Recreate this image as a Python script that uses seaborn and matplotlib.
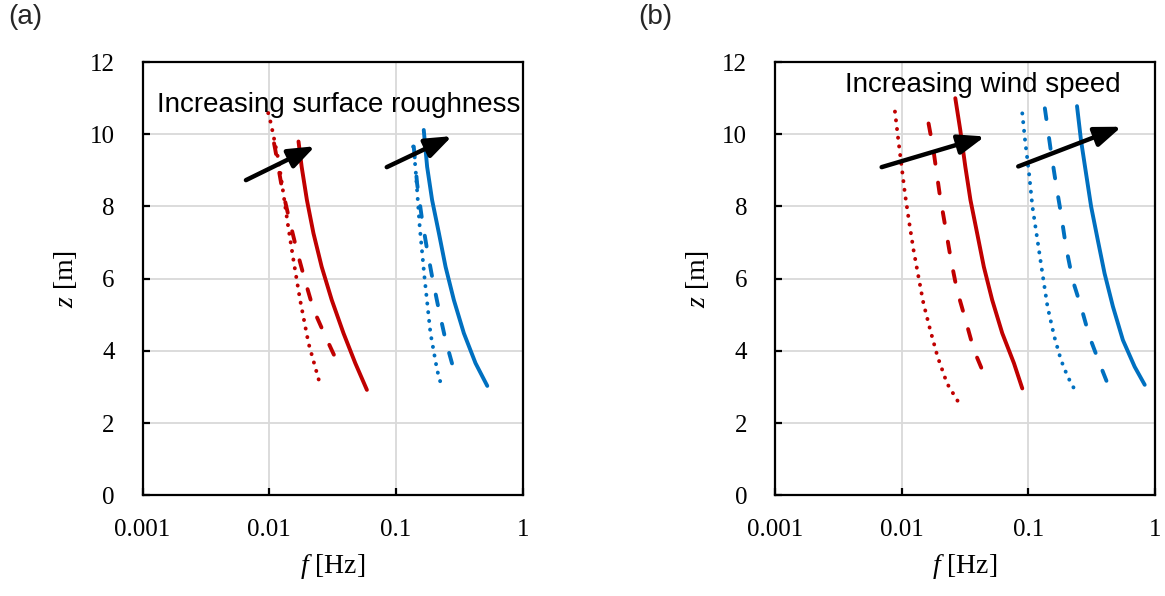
import numpy as np
import pandas as pd
import matplotlib
matplotlib.use('Agg')
import matplotlib.pyplot as plt
import seaborn as sns
from matplotlib.ticker import FixedLocator, FixedFormatter, NullLocator

# Panel (a): increasing surface roughness
a_red_solid_z = [9.80, 9.10, 8.18, 7.26, 6.33, 5.41, 4.49, 3.66, 2.92]
a_red_solid_f = [0.0170, 0.0180, 0.0198, 0.0223, 0.0259, 0.0311, 0.0385, 0.0477, 0.0589]
a_red_dash_z = [9.75, 9.57, 8.55, 7.63, 6.80, 5.96, 5.15, 4.38, 3.68, 3.52]
a_red_dash_f = [0.0109, 0.01115, 0.01253, 0.0144, 0.01644, 0.0191, 0.0223, 0.0279, 0.0345, 0.0362]
a_red_dot_z = [10.59, 10.30, 9.29, 8.37, 7.44, 6.52, 5.41, 4.21, 3.06]
a_red_dot_f = [0.0098, 0.0103, 0.0118, 0.0129, 0.0141, 0.0155, 0.0175, 0.0204, 0.0252]
a_blue_solid_z = [10.12, 9.10, 8.18, 7.26, 6.33, 5.41, 4.49, 3.66, 3.03]
a_blue_solid_f = [0.1655, 0.176, 0.1926, 0.218, 0.246, 0.286, 0.343, 0.424, 0.525]
a_blue_dash_z = [9.66, 8.64, 7.63, 6.80, 6.06, 5.13, 4.30, 3.47, 3.33]
a_blue_dash_f = [0.138, 0.1466, 0.1606, 0.176, 0.1926, 0.218, 0.246, 0.286, 0.300]
a_blue_dot_z = [9.66, 9.10, 7.44, 6.06, 4.49, 3.47, 3.06]
a_blue_dot_f = [0.1365, 0.1422, 0.1538, 0.1675, 0.187, 0.211, 0.227]

# Panel (b): increasing wind speed
b_red_dot_z = [10.63, 9.84, 9.10, 8.37, 7.53, 6.80, 6.06, 5.32, 4.58, 3.84, 3.10, 2.46]
b_red_dot_f = [0.00885, 0.00941, 0.0100, 0.0106, 0.0115, 0.0124, 0.01356, 0.01485, 0.0168,
               0.0192, 0.0228, 0.0294]
b_red_dash_z = [10.30, 9.57, 8.37, 7.44, 6.52, 5.69, 4.86, 4.03, 3.19]
b_red_dash_f = [0.0163, 0.0178, 0.0199, 0.0221, 0.0245, 0.0273, 0.0319, 0.0371, 0.0467]
b_red_solid_z = [11.00, 10.12, 9.10, 8.18, 7.26, 6.33, 5.41, 4.49, 3.66, 2.96]
b_red_solid_f = [0.0265, 0.0290, 0.0318, 0.0349, 0.0394, 0.0445, 0.0518, 0.0622, 0.0769, 0.0895]
b_blue_dot_z = [10.58, 9.84, 8.92, 8.00, 7.07, 6.15, 5.23, 4.40, 3.75, 3.29, 2.98]
b_blue_dot_f = [0.0895, 0.0941, 0.1012, 0.1076, 0.1179, 0.129, 0.1415, 0.160, 0.1807, 0.204, 0.2275]
b_blue_dash_z = [10.72, 9.57, 8.64, 7.81, 6.89, 5.96, 5.23, 4.40, 3.66, 3.03]
b_blue_dash_f = [0.1349, 0.150, 0.1648, 0.1807, 0.1979, 0.2236, 0.260, 0.303, 0.364, 0.4285]
b_blue_solid_z = [10.78, 9.84, 8.92, 8.00, 7.07, 6.15, 5.23, 4.30, 3.56, 3.06]
b_blue_solid_f = [0.242, 0.260, 0.285, 0.3126, 0.353, 0.399, 0.4645, 0.557, 0.690, 0.828]

x_ticks = [0.001, 0.01, 0.1, 1]
x_tick_labels = ['0.001', '0.01', '0.1', '1']
y_ticks = [0, 2, 4, 6, 8, 10, 12]

RED = '#C00000'
BLUE = '#0070C0'
SOLID = '-'
DASH = (0, (2.8, 4.9))
DOT = (0, (0.05, 2.2))

sns.set_theme(style='whitegrid')
plt.rcParams['font.family'] = ['Liberation Serif', 'DejaVu Serif']
plt.rcParams['mathtext.fontset'] = 'custom'
plt.rcParams['mathtext.it'] = 'Liberation Serif:italic'
plt.rcParams['mathtext.rm'] = 'Liberation Serif'

fig = plt.figure(figsize=(11.65, 5.96), dpi=100)
ax_a = fig.add_axes([0.1224, 0.169, 0.3263, 0.7268])
ax_b = fig.add_axes([0.6652, 0.169, 0.3263, 0.7268])


def draw_curve(ax, f, z, color, ls):
    df = pd.DataFrame({'f': f, 'z': z})
    sns.lineplot(data=df, x='f', y='z', ax=ax, color=color, linestyle=ls, lw=2.8,
                 sort=False, dash_capstyle='round', solid_capstyle='round')


def style_axes(ax):
    ax.set_xscale('log')
    ax.set_xlim(0.001, 1)
    ax.set_ylim(0, 12)
    ax.xaxis.set_major_locator(FixedLocator(x_ticks))
    ax.xaxis.set_major_formatter(FixedFormatter(x_tick_labels))
    ax.xaxis.set_minor_locator(NullLocator())
    ax.set_yticks(y_ticks)
    ax.grid(True, color='#D9D9D9', lw=1.3)
    ax.set_facecolor('white')
    for s in ax.spines.values():
        s.set_color('black')
        s.set_linewidth(1.6)
    ax.tick_params(axis='both', direction='in', length=5, width=1.6, color='black',
                   labelsize=18, labelcolor='black', bottom=True, left=True)
    ax.tick_params(axis='x', pad=17)
    ax.tick_params(axis='y', pad=20)
    ax.set_xlabel('$f$ [Hz]', fontsize=20, color='black', labelpad=8)
    ax.set_ylabel('$z$ [m]', fontsize=20, color='black', labelpad=8)


arrow_kw = dict(arrowstyle='-|>,head_length=0.8,head_width=0.3', color='black', lw=3.2,
                mutation_scale=20, shrinkA=0, shrinkB=0)

draw_curve(ax_a, a_red_dot_f, a_red_dot_z, RED, DOT)
draw_curve(ax_a, a_red_dash_f, a_red_dash_z, RED, DASH)
draw_curve(ax_a, a_red_solid_f, a_red_solid_z, RED, SOLID)
draw_curve(ax_a, a_blue_dot_f, a_blue_dot_z, BLUE, DOT)
draw_curve(ax_a, a_blue_dash_f, a_blue_dash_z, BLUE, DASH)
draw_curve(ax_a, a_blue_solid_f, a_blue_solid_z, BLUE, SOLID)
style_axes(ax_a)
ax_a.annotate('', xy=(0.0230, 9.67), xytext=(0.00654, 8.73), arrowprops=arrow_kw)
ax_a.annotate('', xy=(0.277, 9.95), xytext=(0.0845, 9.09), arrowprops=arrow_kw)
ax_a.text(0.0013, 10.62, 'Increasing surface roughness', family=['Liberation Sans', 'DejaVu Sans'],
          fontsize=20, ha='left', va='baseline', color='black')

draw_curve(ax_b, b_red_dot_f, b_red_dot_z, RED, DOT)
draw_curve(ax_b, b_red_dash_f, b_red_dash_z, RED, DASH)
draw_curve(ax_b, b_red_solid_f, b_red_solid_z, RED, SOLID)
draw_curve(ax_b, b_blue_dot_f, b_blue_dot_z, BLUE, DOT)
draw_curve(ax_b, b_blue_dash_f, b_blue_dash_z, BLUE, DASH)
draw_curve(ax_b, b_blue_solid_f, b_blue_solid_z, BLUE, SOLID)
style_axes(ax_b)
ax_b.annotate('', xy=(0.0454, 9.94), xytext=(0.00695, 9.09), arrowprops=arrow_kw)
ax_b.annotate('', xy=(0.544, 10.21), xytext=(0.0832, 9.11), arrowprops=arrow_kw)
ax_b.text(0.00357, 11.17, 'Increasing wind speed', family=['Liberation Sans', 'DejaVu Sans'],
          fontsize=20, ha='left', va='baseline', color='black')

fig.text(8 / 1165, 1 - 4 / 596, '(a)', family=['Liberation Sans', 'DejaVu Sans'],
         fontsize=20, ha='left', va='top')
fig.text(638 / 1165, 1 - 4 / 596, '(b)', family=['Liberation Sans', 'DejaVu Sans'],
         fontsize=20, ha='left', va='top')

fig.savefig('out.png', dpi=100)
